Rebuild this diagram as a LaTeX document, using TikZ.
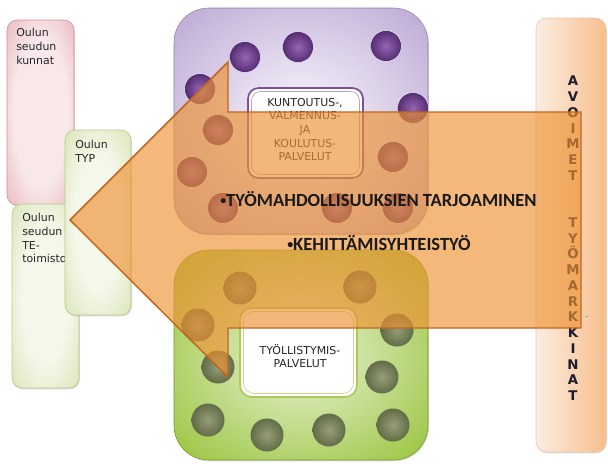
\documentclass[tikz,border=0pt]{standalone}
\usepackage{fontspec}
\setmainfont{DejaVu Sans}
\newfontfamily\headfont{Carlito}
\usetikzlibrary{shadows}

\definecolor{pinkIn}{RGB}{248,232,234}
\definecolor{pinkOut}{RGB}{220,145,155}
\definecolor{pinkLine}{RGB}{215,140,150}
\definecolor{leafIn}{RGB}{245,247,234}
\definecolor{leafOut}{RGB}{200,217,150}
\definecolor{leafLine}{RGB}{185,202,135}
\definecolor{lilacIn}{RGB}{236,230,244}
\definecolor{lilacOut}{RGB}{180,158,206}
\definecolor{grassIn}{RGB}{215,232,180}
\definecolor{grassOut}{RGB}{142,190,40}
\definecolor{peachL}{RGB}{252,237,226}
\definecolor{peachR}{RGB}{246,190,140}
\definecolor{peachLine}{RGB}{240,200,165}
\definecolor{plumIn}{RGB}{150,100,180}
\definecolor{plumOut}{RGB}{84,44,114}
\definecolor{plumLine}{RGB}{128,78,155}
\definecolor{oliveIn}{RGB}{150,158,118}
\definecolor{oliveOut}{RGB}{98,108,72}
\definecolor{grassLine}{RGB}{175,200,90}
\definecolor{arrowFill}{RGB}{238,146,50}
\definecolor{arrowLine}{RGB}{192,102,32}
\definecolor{inkNavy}{RGB}{28,28,48}

\pgfdeclareradialshading{glowpink}{\pgfpoint{0bp}{0bp}}{color(0bp)=(pinkIn); color(20bp)=(pinkIn); color(50bp)=(pinkOut); color(100bp)=(pinkOut)}
\pgfdeclareradialshading{glowleaf}{\pgfpoint{0bp}{0bp}}{color(0bp)=(leafIn); color(18bp)=(leafIn); color(48bp)=(leafOut); color(100bp)=(leafOut)}
\pgfdeclareradialshading{glowlilac}{\pgfpoint{0bp}{0bp}}{color(0bp)=(lilacIn); color(8bp)=(lilacIn); color(40bp)=(lilacOut); color(100bp)=(lilacOut)}
\pgfdeclareradialshading{glowgrass}{\pgfpoint{0bp}{0bp}}{color(0bp)=(grassIn); color(8bp)=(grassIn); color(40bp)=(grassOut); color(100bp)=(grassOut)}

\newcommand{\dotmark}{\raisebox{1.6pt}{\fontsize{9}{9}\selectfont•}}

\begin{document}
\begin{tikzpicture}[x=0.75pt,y=-0.75pt,
	panel/.style={rounded corners=#1, drop shadow={shadow xshift=0.7pt,shadow yshift=-1pt,opacity=0.3}},
	smalltext/.style={font=\fontsize{8.2}{10.3}\selectfont, align=left, anchor=north west, inner sep=0pt, text=black!85},
	boxtext/.style={font=\fontsize{8.2}{10.2}\selectfont, align=center, anchor=north, inner sep=0pt, text=black!85},
	headtext/.style={font=\headfont\bfseries\fontsize{13.9}{16}\selectfont, anchor=west, inner sep=0pt, text=black!90}]
	\useasboundingbox (0,0) rectangle (608,464);

	\draw[panel=7.5pt, shade, shading=glowpink, draw=pinkLine, line width=0.4pt] (7,20) rectangle (74,205);
	\node[smalltext] (kunnat) at (16,28) {Oulun\\seudun\\kunnat};
	\draw[panel=7.5pt, shade, shading=glowleaf, draw=leafLine, line width=0.4pt] (12,204) rectangle (79,388);
	\node[smalltext] (toimisto) at (22,213) {Oulun\\seudun\\TE-\\toimisto};
	\draw[panel=7.5pt, shade, shading=glowleaf, draw=leafLine, line width=0.4pt] (65,130) rectangle (131,315);
	\node[smalltext] (typ) at (75,140) {Oulun\\TYP};

	\draw[panel=8pt, shade, left color=peachL, right color=peachR, draw=peachLine, line width=0.4pt] (536,18) rectangle (606,452);
	\node[font=\fontsize{10}{11.8}\bfseries, align=center, inner sep=0pt, anchor=north, text=inkNavy] (markkinat) at (573,76)
		{A\\V\\O\\I\\M\\E\\T\\[23.5pt]T\\Y\\Ö\\M\\A\\R\\K\\K\\I\\N\\A\\T};

	\draw[panel=26pt, shade, shading=glowlilac, draw=lilacOut!80!black, line width=0.4pt] (174,8) rectangle (428,234);
	\foreach \cx/\cy in {245/57, 298/47, 386/46, 200/89, 413/108, 218/130, 192/172, 393/157, 223/208, 337/208, 398/208}
		\shade[inner color=plumIn, outer color=plumOut, draw=lilacIn, line width=0.4pt] (\cx,\cy) circle[radius=15.5];
	\draw[rounded corners=8pt, fill=white, draw=plumLine, line width=1.3pt] (248,88) rectangle (363,178);
	\draw[rounded corners=7pt, draw=lilacOut, line width=0.5pt] (251.5,91.5) rectangle (359.5,174.5);
	\node[boxtext] (kuntoutus) at (305,98) {KUNTOUTUS-,\\VALMENNUS-\\JA\\KOULUTUS-\\PALVELUT};

	\draw[panel=26pt, shade, shading=glowgrass, draw=grassOut!80!black, line width=0.4pt] (174,250) rectangle (428,460);
	\foreach \cx/\cy in {240/288, 360/287, 198/325, 397/330, 218/367, 382/377, 208/420, 267/435, 329/430, 393/425}
		\shade[inner color=oliveIn, outer color=oliveOut] (\cx,\cy) circle[radius=16.5];
	\draw[rounded corners=9pt, fill=white, draw=grassLine, line width=1.3pt] (240,308) rectangle (357,397);
	\draw[rounded corners=8pt, draw=grassLine!70, line width=0.5pt] (243.5,311.5) rectangle (353.5,393.5);
	\node[boxtext] (tyollistymis) at (300,344) {TYÖLLISTYMIS-\\PALVELUT};

	\draw[fill=arrowFill, fill opacity=0.65, draw=arrowLine, line width=1.1pt, line join=miter]
		(70,220) -- (228,62) -- (228,112) -- (581,112) -- (581,328) -- (228,328) -- (228,377) -- cycle;

	\node[headtext] (tarjoaminen) at (220,199) {\dotmark TYÖMAHDOLLISUUKSIEN TARJOAMINEN};
	\node[headtext] (yhteistyo) at (287,243) {\dotmark KEHITTÄMISYHTEISTYÖ};
	\node[font=\tiny, inner sep=0pt] (piste) at (587,317) {.};
\end{tikzpicture}
\end{document}
